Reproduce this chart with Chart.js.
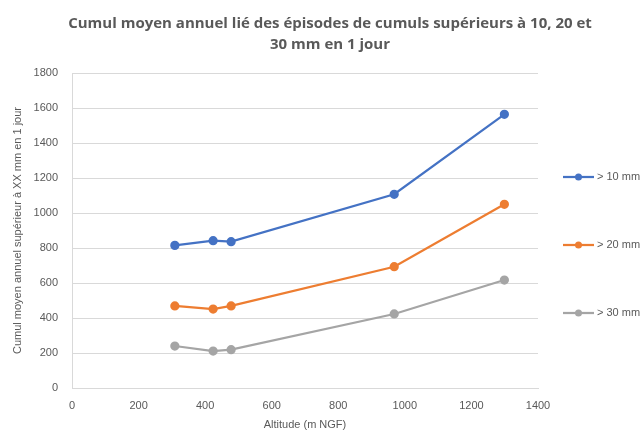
<!DOCTYPE html>
<html>
<head>
<meta charset="utf-8">
<script src="https://cdn.jsdelivr.net/npm/chart.js@4/dist/chart.umd.min.js"></script>
<style>
  body { margin: 0; background: #fff; }
  #chart { display: block; }
</style>
</head>
<body>
<canvas id="chart" width="643" height="434"></canvas>
<script>
// values (altitude in m NGF, cumuls in mm)
const altitudes = [309, 424, 478, 968, 1299];
const cumul10 = [815, 842, 836, 1107, 1564];
const cumul20 = [469, 451, 469, 693, 1050];
const cumul30 = [240, 211, 219, 423, 617];
const seriesLabels = ["> 10 mm", "> 20 mm", "> 30 mm"];
const seriesColors = ["#4472C4", "#ED7D31", "#A5A5A5"];
const titleLines = ["Cumul moyen annuel lié des épisodes de cumuls supérieurs à 10, 20 et", "30 mm en 1 jour"];

const textColor = "#595959";
const fontFamily = "'Liberation Sans', Arial, sans-serif";

function points(values) {
  return altitudes.map((x, i) => ({ x: x, y: values[i] }));
}

// title centred on the whole canvas (the built-in one centres on the padded area)
const pageTitle = {
  id: "pageTitle",
  afterDraw(chart) {
    const ctx = chart.ctx;
    ctx.save();
    ctx.font = "bold 15px 'Open Sans', sans-serif";
    ctx.fillStyle = textColor;
    ctx.textAlign = "center";
    ctx.textBaseline = "alphabetic";
    titleLines.forEach((line, i) => ctx.fillText(line, 330, 28 + i * 21));
    ctx.restore();
  }
};

// Excel style legend: short line with a dot, items spread down the right side
const sideLegend = {
  id: "sideLegend",
  afterDraw(chart) {
    const ctx = chart.ctx;
    const x0 = chart.chartArea.right + 25;
    const yMid = 245, step = 68;
    ctx.save();
    ctx.font = "11px " + fontFamily;
    ctx.textBaseline = "middle";
    chart.data.datasets.forEach((ds, i) => {
      const y = yMid + (i - 1) * step;
      ctx.strokeStyle = ds.borderColor;
      ctx.lineWidth = 2.25;
      ctx.beginPath();
      ctx.moveTo(x0, y);
      ctx.lineTo(x0 + 31, y);
      ctx.stroke();
      ctx.fillStyle = ds.borderColor;
      ctx.beginPath();
      ctx.arc(x0 + 15.5, y, 3.5, 0, Math.PI * 2);
      ctx.fill();
      ctx.fillStyle = textColor;
      ctx.fillText(ds.label, x0 + 34, y);
    });
    ctx.restore();
  }
};

const datasets = [cumul10, cumul20, cumul30].map((vals, i) => ({
  label: seriesLabels[i],
  data: points(vals),
  showLine: true,
  borderColor: seriesColors[i],
  backgroundColor: seriesColors[i],
  borderWidth: 2.25,
  pointRadius: 3.5,
  pointHoverRadius: 3.5
}));

const plainTick = v => String(v);

new Chart(document.getElementById("chart"), {
  type: "scatter",
  data: { datasets: datasets },
  plugins: [pageTitle, sideLegend],
  options: {
    responsive: false,
    animation: false,
    layout: { padding: { left: 11, right: 105, top: 73, bottom: 0 } },
    plugins: {
      legend: { display: false },
      tooltip: { enabled: false },
      title: { display: false }
    },
    scales: {
      x: {
        type: "linear",
        min: 0,
        max: 1400,
        ticks: { stepSize: 200, color: textColor, font: { family: fontFamily, size: 11 }, padding: 11, callback: plainTick },
        grid: { display: false, drawTicks: false },
        border: { display: true, color: "#d9d9d9" },
        title: {
          display: true,
          text: "Altitude (m NGF)",
          color: textColor,
          font: { family: fontFamily, size: 11 },
          padding: { top: 2, bottom: 2 }
        },
        afterFit(scale) { scale.height = 46; }
      },
      y: {
        min: 0,
        max: 1800,
        ticks: { stepSize: 200, color: textColor, font: { family: fontFamily, size: 11 }, padding: 14, callback: plainTick },
        grid: { color: "#d9d9d9", drawTicks: false },
        border: { display: true, color: "#d9d9d9" },
        title: {
          display: true,
          text: "Cumul moyen annuel supérieur à XX mm en 1 jour",
          color: textColor,
          font: { family: fontFamily, size: 11 },
          padding: { top: 0, bottom: 4 }
        },
        afterFit(scale) { scale.width = 61; }
      }
    }
  }
});
</script>
</body>
</html>
